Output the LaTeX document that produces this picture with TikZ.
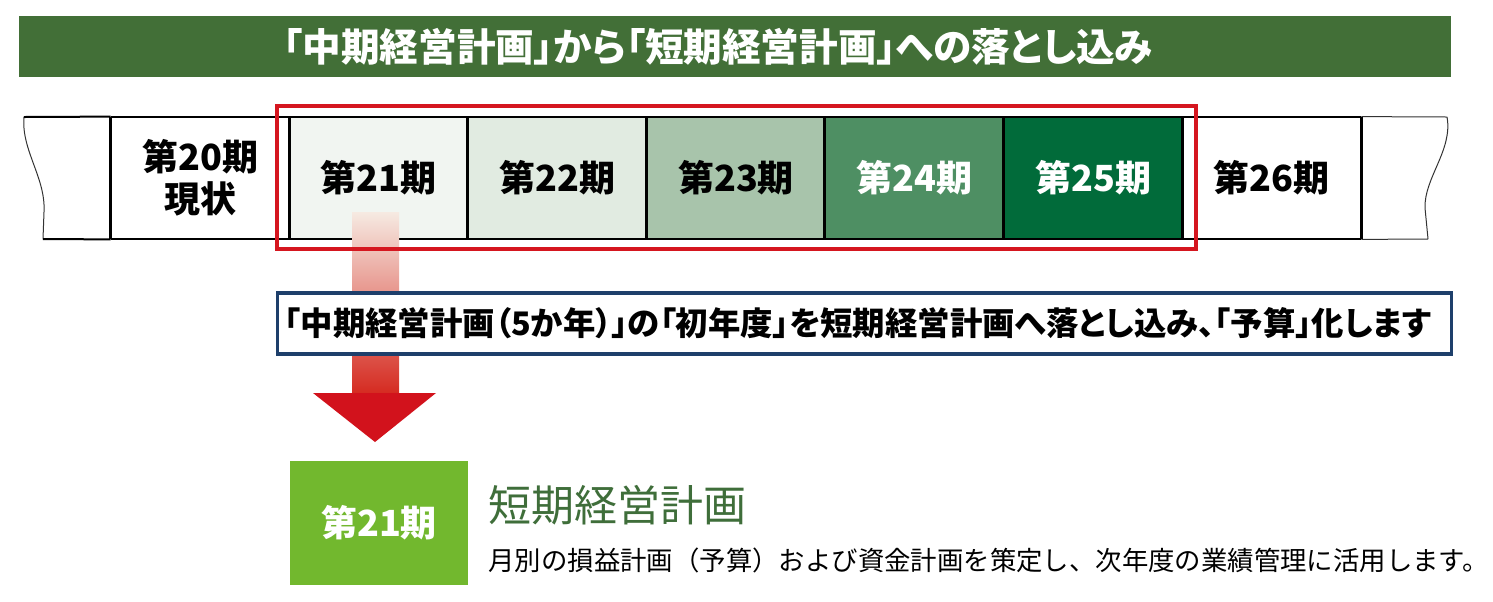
\documentclass[tikz,border=0pt]{standalone}
\usepackage{fontspec}
\setmainfont{Noto Sans CJK JP}
\newfontfamily\jpp{Noto Sans CJK JP}[RawFeature=+palt]
\usetikzlibrary{positioning}
\definecolor{titlegreen}{HTML}{426F37}
\definecolor{cA}{HTML}{F1F5F1}
\definecolor{cB}{HTML}{E1EBE1}
\definecolor{cC}{HTML}{A8C4AB}
\definecolor{cD}{HTML}{4E8F63}
\definecolor{cE}{HTML}{016B3A}
\definecolor{selred}{HTML}{D5161F}
\definecolor{navy}{HTML}{1E3F6B}
\definecolor{arrowred}{HTML}{D2121C}
\definecolor{shafttop}{HTML}{F6EAE2}
\definecolor{shaftmid}{HTML}{E69F82}
\definecolor{shaftbot}{HTML}{D52A20}
\definecolor{planbox}{HTML}{72B82E}
\definecolor{plantext}{HTML}{3F6E3A}
\tikzset{
  period/.style={minimum width=89.3pt, minimum height=61pt, inner sep=0pt,
    font=\fontsize{18}{20}\selectfont\bfseries, align=center},
  sepline/.style={line width=1.5pt, black},
  edgeline/.style={line width=1pt, black},
  waveline/.style={line width=0.5pt, black!80},
}
\begin{document}
\begin{tikzpicture}[x=0.5pt,y=-0.5pt]
\useasboundingbox (0,0) rectangle (1493,601);
% title bar
\node[fill=titlegreen, minimum width=716pt, minimum height=30.5pt, inner sep=0pt] (title) at (735,46.5) {};
\node[anchor=west, inner sep=0pt, text=white, font=\jpp\fontsize{19.3}{21}\selectfont\bfseries] (titletext) at (283,46.5)
  {「中期経営計画」から「短期経営計画」への落とし込み};
% period boxes
\node[period] (p20) at (200.3,178) {第20期\\[1pt]現状};
\node[period, fill=cA] (p21) at (378.9,178) {第21期};
\node[period, fill=cB] (p22) at (557.4,178) {第22期};
\node[period, fill=cC] (p23) at (736,178) {第23期};
\node[period, fill=cD, text=white] (p24) at (914.6,178) {第24期};
\node[period, fill=cE, text=white] (p25) at (1093.2,178) {第25期};
\node[period] (p26) at (1271.7,178) {第26期};
% wavy ends
\coordinate (lt) at (24,117);
\coordinate (lb) at (43,239);
\coordinate (rt) at (1447,117);
\coordinate (rb) at (1428,239);
\draw[waveline] (lt) .. controls (21,150) and (46,178) .. (44,212) -- (lb);
\draw[waveline] (rt) .. controls (1453,150) and (1424,178) .. (1425,208) -- (rb);
\draw[edgeline] (lt) -- (p20.north west);
\draw[edgeline] (lb) -- (p20.south west);
\draw[edgeline] (p20.north west) -- (p26.north east);
\draw[edgeline] (p20.south west) -- (p26.south east);
\draw[waveline] (p26.north east) -- (rt);
\draw[waveline] (p26.south east) -- (rb);
\foreach \n in {p20,p21,p22,p23,p24,p25,p26}{
  \draw[sepline] (\n.north west) -- (\n.south west);
}
\draw[sepline] (p26.north east) -- (p26.south east);
% arrow shaft (gradient)
\shade[top color=shafttop, middle color=shaftmid, bottom color=shaftbot]
  (352,212) rectangle (399,394);
\fill[arrowred] (313,393) -- (436,393) -- (375,442) -- cycle;
% selection rectangle
\draw[selred, line width=1.6pt] (277,106) rectangle (1196,249);
% message box
\node[draw=navy, line width=1.6pt, fill=white, minimum width=587pt, minimum height=30.5pt,
  inner sep=0pt] (msg) at (864.5,323.5) {};
\node[anchor=west, inner sep=0pt, font=\jpp\fontsize{16.2}{18}\selectfont\bfseries] (msgtext) at (284,323.5)
  {「中期経営計画（5か年）」の「初年度」を短期経営計画へ落とし込み、「予算」化します};
% plan box
\node[fill=planbox, minimum width=89pt, minimum height=62pt, inner sep=0pt,
  text=white, font=\fontsize{18}{20}\selectfont\bfseries] (g21) at (379,523) {第21期};
\node[anchor=west, inner sep=0pt, text=plantext, font=\fontsize{21.5}{24}\selectfont]
  (plantitle) at (488,505) {短期経営計画};
\node[anchor=west, inner sep=0pt, font=\fontsize{13.2}{15}\selectfont]
  (plandesc) at (488,560) {月別の損益計画（予算）および資金計画を策定し、次年度の業績管理に活用します。};
\end{tikzpicture}
\end{document}
